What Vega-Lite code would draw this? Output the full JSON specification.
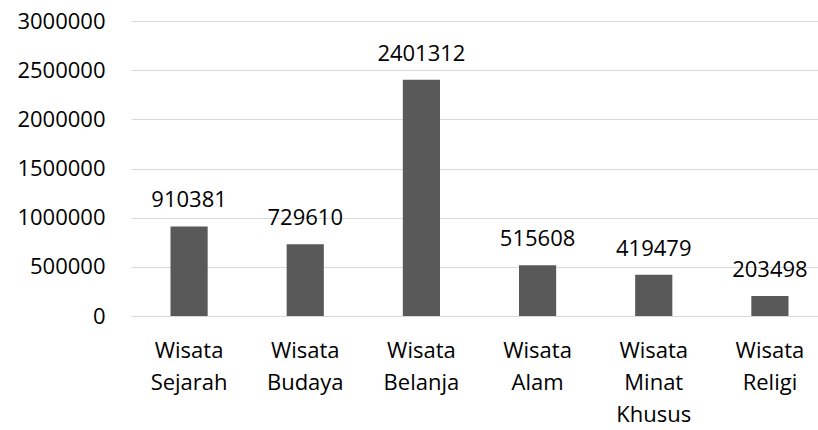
{
  "$schema": "https://vega.github.io/schema/vega-lite/v6.json",
  "width": 697,
  "height": 295,
  "autosize": {"type": "none"},
  "padding": {"left": 131, "top": 21, "right": 0, "bottom": 114},
  "background": "white",
  "config": {"view": {"stroke": null}, "font": "Open Sans"},
  "data": {"values": [
    {"kategori": "Wisata Sejarah", "jumlah": 910381},
    {"kategori": "Wisata Budaya", "jumlah": 729610},
    {"kategori": "Wisata Belanja", "jumlah": 2401312},
    {"kategori": "Wisata Alam", "jumlah": 515608},
    {"kategori": "Wisata Minat Khusus", "jumlah": 419479},
    {"kategori": "Wisata Religi", "jumlah": 203498}
  ]},
  "encoding": {
    "x": {"field": "kategori", "type": "nominal", "sort": null,
      "scale": {"paddingInner": 0.68, "paddingOuter": 0.34},
      "axis": {"title": null, "labelAngle": 0, "ticks": false, "domainColor": "#d9d9d9", "domainWidth": 1,
        "labelFont": "Open Sans", "labelFontSize": 22, "labelColor": "#000000", "labelPadding": 24,
        "labelLineHeight": 32, "labelBaseline": "top",
        "labelExpr": "split(datum.label, ' ')"}},
    "y": {"field": "jumlah", "type": "quantitative",
      "scale": {"domain": [0, 3000000]},
      "axis": {"title": null, "values": [0, 500000, 1000000, 1500000, 2000000, 2500000, 3000000],
        "format": "d", "domain": false, "ticks": false, "gridColor": "#d9d9d9", "gridWidth": 1,
        "labelFont": "Open Sans", "labelFontSize": 22, "labelColor": "#000000", "labelPadding": 26}}
  },
  "layer": [
    {"mark": {"type": "bar", "color": "#595959"}},
    {"mark": {"type": "text", "baseline": "alphabetic", "dy": -19, "fontSize": 22, "font": "Open Sans", "color": "#000000"},
     "encoding": {"text": {"field": "jumlah", "type": "quantitative", "format": "d"}}}
  ]
}
